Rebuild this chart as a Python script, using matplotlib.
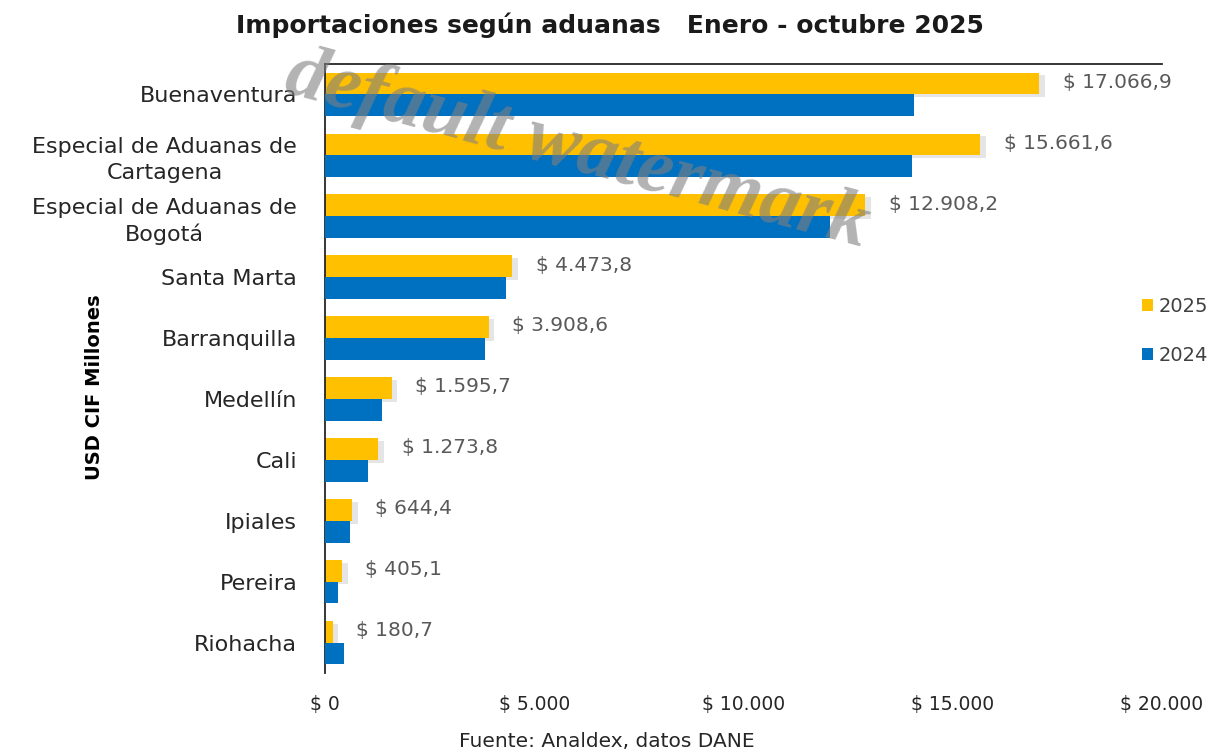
import matplotlib
matplotlib.use("Agg")
import matplotlib.pyplot as plt
import matplotlib.patheffects as pe
from matplotlib.patches import Patch
import numpy as np

categories = ["Buenaventura", "Especial de Aduanas de\nCartagena", "Especial de Aduanas de\nBogotá",
              "Santa Marta", "Barranquilla", "Medellín", "Cali", "Ipiales", "Pereira", "Riohacha"]
values_2025 = [17066.9, 15661.6, 12908.2, 4473.8, 3908.6, 1595.7, 1273.8, 644.4, 405.1, 180.7]
values_2024 = [14074, 14026, 12067, 4330, 3813, 1351, 1027, 595, 307, 454]
value_labels = ["$ 17.066,9", "$ 15.661,6", "$ 12.908,2", "$ 4.473,8", "$ 3.908,6",
                "$ 1.595,7", "$ 1.273,8", "$ 644,4", "$ 405,1", "$ 180,7"]
xticks = [0, 5000, 10000, 15000, 20000]
xtick_labels = ["$ 0", "$ 5.000", "$ 10.000", "$ 15.000", "$ 20.000"]
series_names = ["2025", "2024"]

C25 = "#FFC000"
C24 = "#0070C0"

fig = plt.figure(figsize=(12.2, 7.54), dpi=100)
ax = fig.add_axes([0.2664, 0.1074, 0.6861, 0.8077])

y = np.arange(len(categories))
h = 0.358
shadow = [pe.SimplePatchShadow(offset=(4, -2), shadow_rgbFace="#8c8c8c", alpha=0.22), pe.Normal()]
b25 = ax.barh(y - h / 2, values_2025, height=h, color=C25, zorder=2)
for p in b25:
    p.set_path_effects(shadow)
b24 = ax.barh(y + h / 2, values_2024, height=h, color=C24, zorder=3)

for yi, v, lab in zip(y, values_2025, value_labels):
    ax.text(v + 560, yi - h / 2 - 0.02, lab, va="center", ha="left", fontsize=14.5, color="#595959")

ax.set_xlim(0, 20000)
ax.set_ylim(len(categories) - 0.5, -0.5)
ax.set_xticks(xticks)
ax.set_xticklabels(xtick_labels, fontsize=13.5, color="#262626")
ax.set_yticks(y)
ax.set_yticklabels(categories, fontsize=16, color="#262626", multialignment="center",
                   linespacing=1.35)
ax.tick_params(axis="both", length=0)
ax.tick_params(axis="x", pad=16)
ax.tick_params(axis="y", pad=20)
for s in ["right", "bottom"]:
    ax.spines[s].set_visible(False)
ax.spines["left"].set_linewidth(1.3)
ax.spines["top"].set_linewidth(1.3)
ax.spines["left"].set_color("#262626")
ax.spines["top"].set_color("#262626")

ax.set_ylabel("USD CIF Millones", fontsize=14, fontweight="bold", color="#000000")
ax.yaxis.set_label_coords(-0.264, 0.47)

handles = [Patch(facecolor=C25), Patch(facecolor=C24)]
leg = fig.legend(handles=handles, labels=series_names, loc="center left",
                 bbox_to_anchor=(0.922, 0.561), frameon=False, fontsize=14,
                 handlelength=0.55, handleheight=0.55, handletextpad=0.3, labelspacing=1.55)
for t in leg.get_texts():
    t.set_color("#404040")

fig.text(0.5, 0.966, "Importaciones según aduanas   Enero - octubre 2025", ha="center", va="center",
         fontsize=18, fontweight="bold", color="#1a1a1a")
fig.text(0.497, 0.017, "Fuente: Analdex, datos DANE", ha="center", va="center", fontsize=14.5, color="#262626")

fig.text(0.473, 0.8, "default watermark", ha="center", va="center", rotation=-15,
         fontsize=57, fontweight="bold", fontstyle="italic", family="Liberation Serif",
         color="#808080", alpha=0.6, zorder=10)

fig.savefig("out.png", dpi=100, facecolor="white")
